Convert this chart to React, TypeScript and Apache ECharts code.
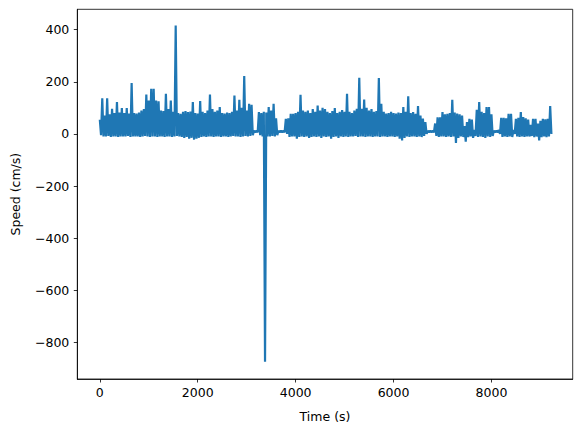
import React, { useEffect, useRef } from "react";
import * as echarts from "echarts";

// Sampling step of the envelope values (seconds)
const STEP = 50;

// Upper envelope of the speed trace, one value per STEP seconds from t = 0 (cm/s)
const highs = [
  55, 137, 70, 137, 75, 96, 80, 122, 82, 99,
  80, 99, 78, 195, 80, 78, 82, 90, 95, 151,
  128, 173, 173, 128, 125, 90, 88, 154, 95, 128,
  85, 416, 80, 77, 85, 88, 84, 86, 122, 80,
  78, 126, 85, 80, 90, 151, 95, 85, 90, 103,
  80, 78, 82, 80, 85, 147, 90, 131, 100, 222,
  90, 116, 112, 12, 12, 84, 80, 85, 82, 103,
  90, 116, 60, 12, 12, 12, 58, 60, 77, 77,
  80, 85, 150, 90, 85, 90, 80, 95, 85, 109,
  90, 100, 95, 85, 80, 88, 99, 80, 85, 92,
  85, 154, 85, 80, 90, 96, 215, 96, 132, 100,
  90, 95, 85, 88, 214, 116, 85, 78, 80, 85,
  80, 78, 82, 80, 103, 85, 144, 80, 84, 77,
  107, 70, 59, 45, 12, 12, 12, 40, 64, 64,
  84, 75, 77, 80, 131, 82, 78, 75, 70, 30,
  45, 58, 55, 15, 93, 122, 85, 80, 103, 103,
  75, 12, 12, 15, 62, 62, 60, 77, 77, 15,
  58, 62, 84, 65, 60, 55, 35, 58, 58, 40,
  50, 58, 56, 58, 107,
];

// Lower envelope, one value per STEP seconds, taken half a step later (cm/s)
const lows = [
  -5, -10, -10, -8, -12, -10, -10, -12, -10, -10,
  -10, -8, -12, -10, -10, -10, -12, -10, -8, -10,
  -12, -10, -10, -12, -10, -10, -12, -10, -10, -12,
  -10, -8, -10, -12, -15, -12, -18, -15, -22, -18,
  -15, -12, -10, -12, -10, -10, -12, -10, -10, -12,
  -10, -10, -12, -10, -8, -10, -10, -12, -10, -8,
  -10, -8, -5, 6, 6, -5, -10, -874, -10, -10,
  -8, -10, -5, 6, 6, 6, 0, -12, -10, -10,
  -18, -12, -10, -12, -10, -15, -12, -10, -12, -10,
  -15, -10, -12, -10, -18, -12, -10, -15, -10, -12,
  -10, -12, -10, -10, -8, -12, -10, -10, -12, -10,
  -10, -12, -10, -10, -12, -10, -10, -12, -10, -10,
  -12, -10, -18, -25, -15, -10, -12, -10, -10, -12,
  -10, -12, -8, 0, 6, 6, 6, -8, -12, -10,
  -10, -12, -10, -12, -10, -35, -15, -10, -12, -30,
  -12, -10, -15, -8, -12, -10, -12, -15, -10, -12,
  -8, 6, 6, 0, -12, -10, -12, -10, -12, 0,
  -10, -12, -10, -12, -10, -10, -8, -12, -10, -25,
  -12, -10, -12, -10, 0,
];

const xTicks = [0, 2000, 4000, 6000, 8000];
const yTicks = [-800, -600, -400, -200, 0, 200, 400];

const FONT = "DejaVu Sans";

export default function App() {
  const ref = useRef<HTMLDivElement>(null);

  useEffect(() => {
    document.body.style.margin = "0";
    if (!ref.current) return;
    const chart = echarts.init(ref.current, undefined, { renderer: "svg" });

    const data: [number, number][] = [];
    highs.forEach((h, i) => {
      const t = i * STEP;
      data.push([t, h]);
      if (i < lows.length) data.push([t + STEP / 2, lows[i]]);
    });

    const fmt = (v: number) => String(v).replace("-", "\u2212");

    const axisCommon = {
      type: "value",
      nameLocation: "middle",
      nameTextStyle: { fontFamily: FONT, fontSize: 12.5, color: "#000" },
      axisLine: { show: true, onZero: false, lineStyle: { color: "#000", width: 0.8 } },
      splitLine: { show: false },
    };

    chart.setOption({
      animation: false,
      backgroundColor: "#ffffff",
      grid: {
        left: 77.3,
        right: 10.3,
        top: 9.3,
        bottom: 53,
        show: true,
        borderColor: "#000000",
        borderWidth: 0.8,
        backgroundColor: "transparent",
      },
      xAxis: {
        ...axisCommon,
        min: -460,
        max: 9660,
        name: "Time (s)",
        nameGap: 31,
        axisTick: {
          show: true,
          inside: false,
          length: 3.5,
          lineStyle: { color: "#000", width: 0.8 },
          customValues: xTicks,
        },
        axisLabel: {
          fontFamily: FONT,
          fontSize: 12.5,
          color: "#000",
          margin: 7,
          customValues: xTicks,
          formatter: fmt,
        },
      },
      yAxis: {
        ...axisCommon,
        min: -940,
        max: 478,
        name: "Speed (cm/s)",
        nameGap: 55,
        nameRotate: 90,
        axisTick: {
          show: true,
          inside: false,
          length: 3.5,
          lineStyle: { color: "#000", width: 0.8 },
          customValues: yTicks,
        },
        axisLabel: {
          fontFamily: FONT,
          fontSize: 12.5,
          color: "#000",
          margin: 8,
          customValues: yTicks,
          formatter: fmt,
        },
      },
      series: [
        {
          type: "line",
          data,
          showSymbol: false,
          symbol: "none",
          lineStyle: { color: "#1f77b4", width: 2.2 },
          itemStyle: { color: "#1f77b4" },
          z: 2,
        },
      ],
    });

    return () => chart.dispose();
  }, []);

  return (
    <div
      ref={ref}
      style={{ position: "absolute", left: 0, top: 0, width: 583, height: 432 }}
    />
  );
}
